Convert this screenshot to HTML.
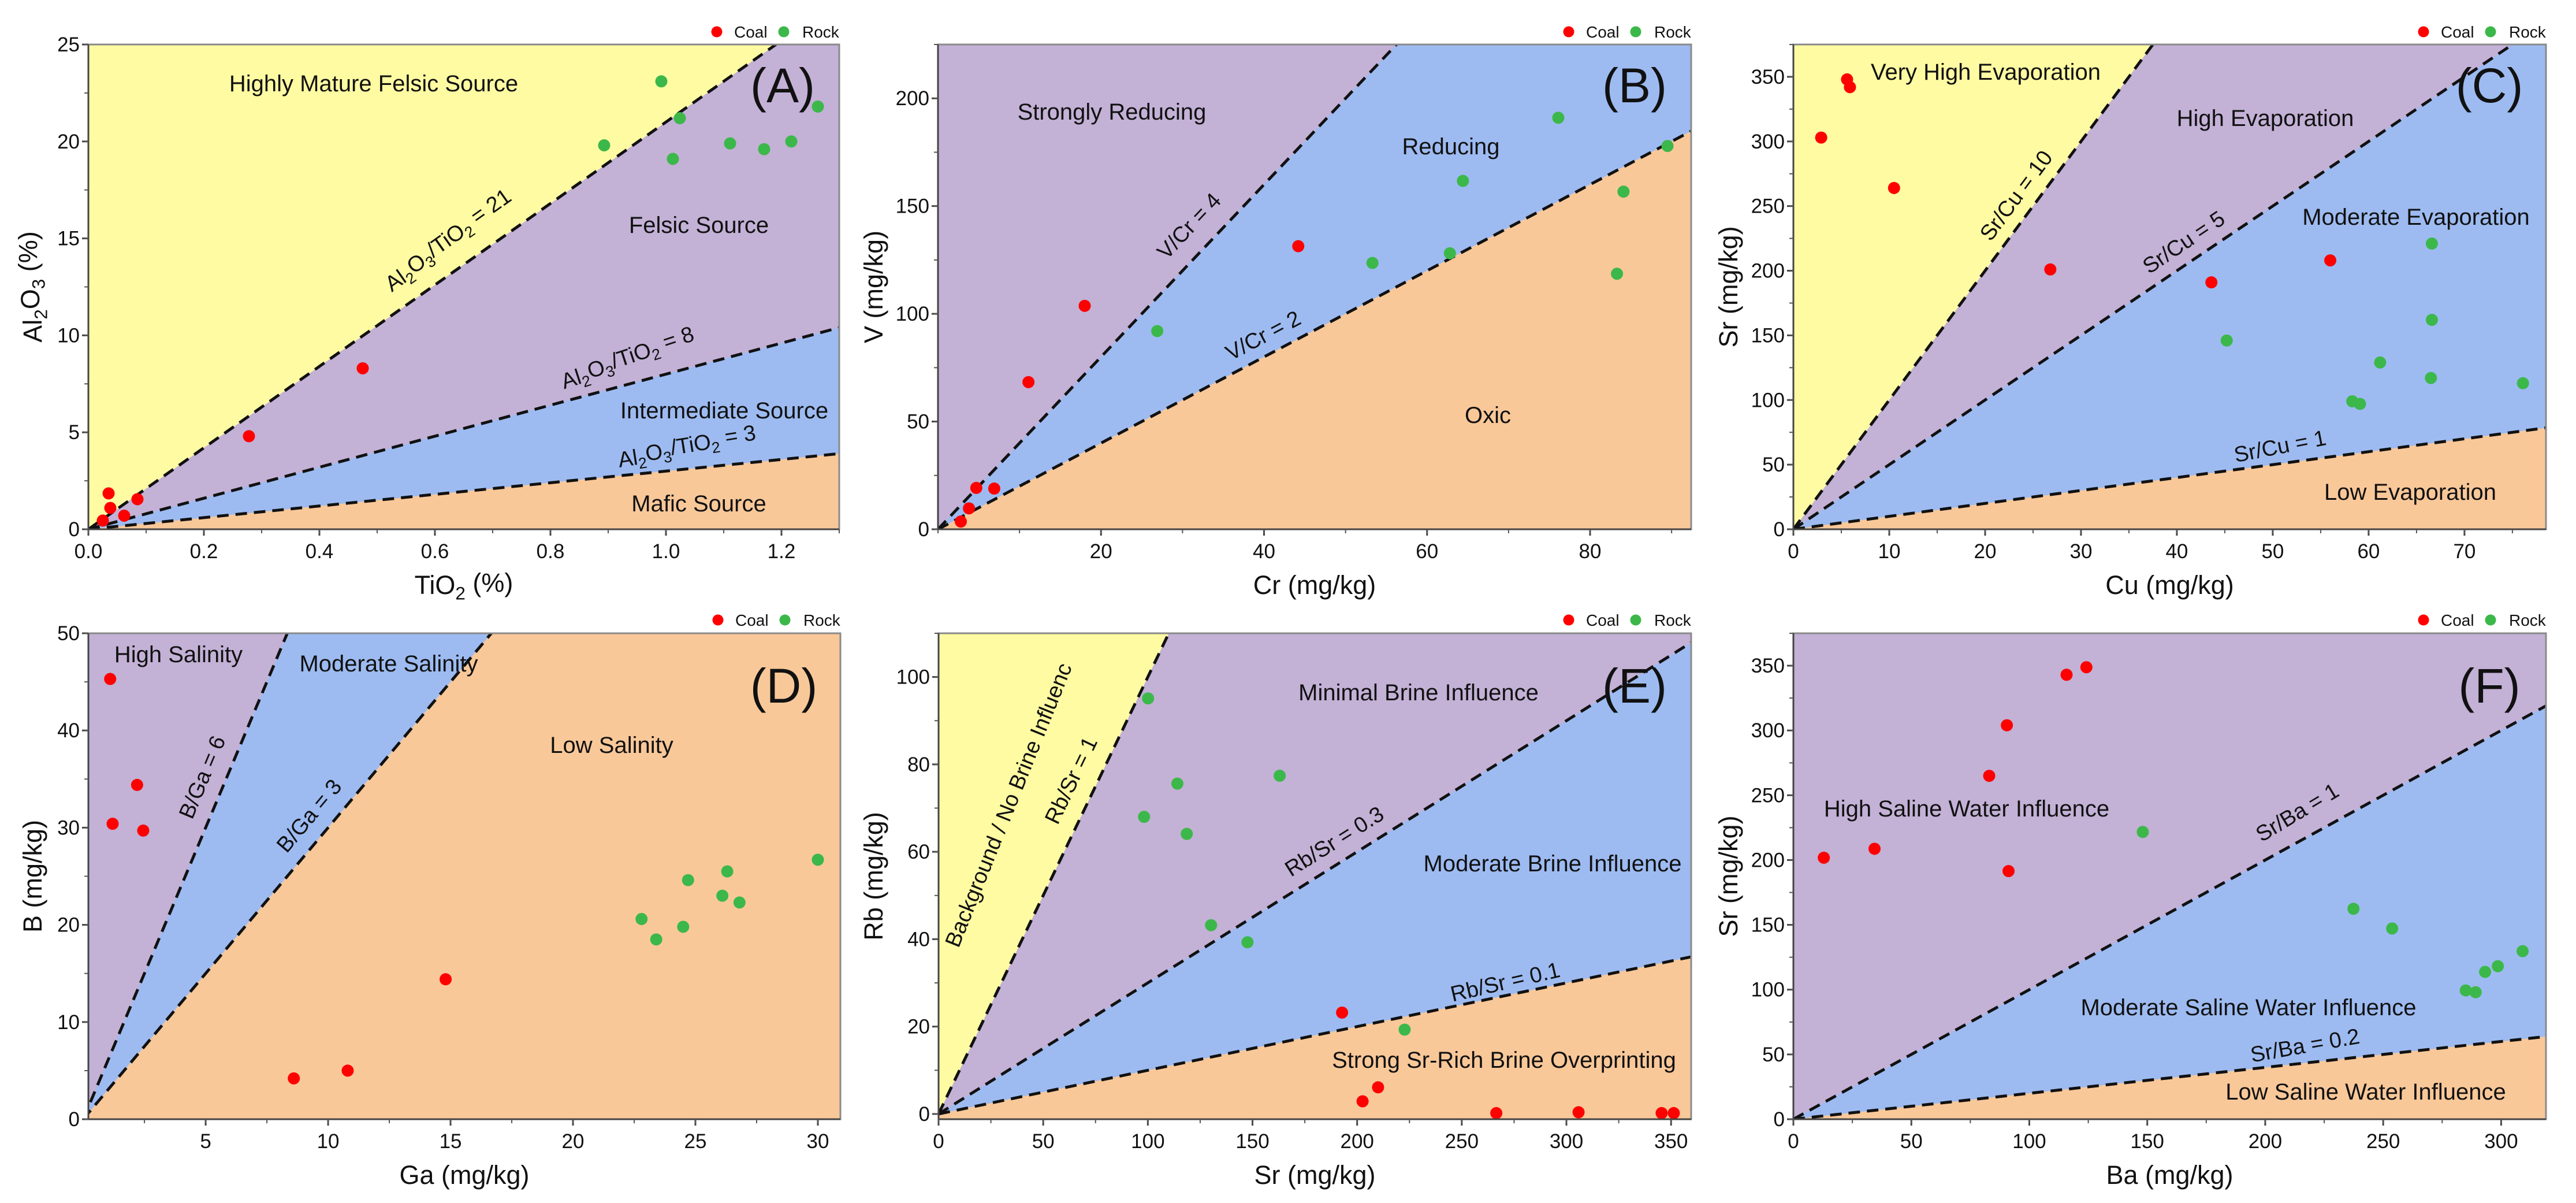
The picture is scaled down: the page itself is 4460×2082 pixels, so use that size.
<!DOCTYPE html>
<html><head><meta charset="utf-8">
<style>
html,body{margin:0;padding:0;background:#fff;}
svg{display:block;font-family:"Liberation Sans",Arial,sans-serif;}
</style></head>
<body>
<svg id="fig" xmlns="http://www.w3.org/2000/svg" width="4460" height="2082" viewBox="0 0 4460 2082">
<rect x="0" y="0" width="4460" height="2082" fill="#ffffff"/>
</svg>
<script>
// ---------- Panel A data ----------
const coalA_x = [0.025, 0.035, 0.038, 0.062, 0.085, 0.278, 0.475];
const coalA_y = [0.45, 1.85, 1.1, 0.7, 1.55, 4.8, 8.3];
const rockA_x = [0.893, 0.992, 1.012, 1.024, 1.111, 1.170, 1.217, 1.263];
const rockA_y = [19.8, 23.1, 19.1, 21.2, 19.9, 19.6, 20.0, 21.8];
const ratiosA = [3, 8, 21];
const xTicksA = [0, 0.2, 0.4, 0.6, 0.8, 1.0, 1.2];
const xTickLabelsA = ["0.0", "0.2", "0.4", "0.6", "0.8", "1.0", "1.2"];
const yTicksA = [0, 5, 10, 15, 20, 25];
// ---------- Panel B data ----------
const coalB_x = [2.8, 3.8, 4.7, 6.9, 11.1, 18.0, 44.2];
const coalB_y = [3.6, 9.7, 19.2, 18.9, 68.3, 103.7, 131.4];
const rockB_x = [26.9, 53.3, 62.8, 64.4, 76.1, 83.3, 84.1, 89.5];
const rockB_y = [92, 123.6, 128.1, 161.7, 191, 118.6, 156.7, 177.9];
const ratiosB = [2, 4];
const xTicksB = [20, 40, 60, 80];
const yTicksB = [0, 50, 100, 150, 200];
// ---------- Panel C data ----------
const coalC_x = [2.9, 5.6, 5.9, 10.5, 26.8, 43.6, 56.0];
const coalC_y = [303, 348, 342, 264, 201, 191, 208];
const rockC_x = [45.2, 58.3, 59.1, 61.2, 66.5, 66.6, 66.6, 76.1];
const rockC_y = [146, 99, 97, 129, 117, 162, 221, 113];
const ratiosC = [1, 5, 10];
const xTicksC = [0, 10, 20, 30, 40, 50, 60, 70];
const yTicksC = [0, 50, 100, 150, 200, 250, 300, 350];
// ---------- Panel D data ----------
const coalD_x = [1.1, 1.2, 2.2, 2.45, 8.6, 10.8, 14.8];
const coalD_y = [45.3, 30.4, 34.4, 29.7, 4.2, 5.0, 14.4];
const rockD_x = [22.8, 23.4, 24.5, 24.7, 26.1, 26.3, 26.8, 30.0];
const rockD_y = [20.6, 18.5, 19.8, 24.6, 23.0, 25.5, 22.3, 26.7];
const ratiosD = [3, 6];
const xTicksD = [5, 10, 15, 20, 25, 30];
const yTicksD = [0, 10, 20, 30, 40, 50];
// ---------- Panel E data ----------
const coalE_x = [192.8, 202.6, 210, 266.5, 305.8, 345.5, 351.3];
const coalE_y = [23.2, 2.9, 6.1, 0.2, 0.4, 0.2, 0.2];
const rockE_x = [100.1, 98.2, 114.1, 118.6, 130.2, 147.6, 163, 222.7];
const rockE_y = [95.1, 68.0, 75.6, 64.1, 43.2, 39.3, 77.4, 19.3];
const ratiosE = [0.1, 0.3, 1];
const xTicksE = [0, 50, 100, 150, 200, 250, 300, 350];
const yTicksE = [0, 20, 40, 60, 80, 100];
// ---------- Panel F data ----------
const coalF_x = [12.9, 34.4, 83, 90.5, 91.2, 115.8, 124.2];
const coalF_y = [201.8, 208.7, 265, 304, 191.5, 343, 348.8];
const rockF_x = [148.1, 237.4, 253.8, 285, 289.2, 293.2, 298.6, 309.1];
const rockF_y = [221.7, 162.4, 147.2, 99.4, 98, 113.7, 118.1, 129.7];
const ratiosF = [0.2, 1];
const xTicksF = [0, 50, 100, 150, 200, 250, 300];
const yTicksF = [0, 50, 100, 150, 200, 250, 300, 350];

const NS = "http://www.w3.org/2000/svg";
const svg = document.getElementById("fig");
const COLORS = {yellow:"#fffba2", purple:"#c3b1d6", blue:"#9dbbf1", orange:"#f9c899"};
function mk(tag, attrs, parent){
  const e = document.createElementNS(NS, tag);
  for (const k in attrs) e.setAttribute(k, attrs[k]);
  (parent||svg).appendChild(e);
  return e;
}
function richText(el, parts){
  // parts: array of [text, isSub]
  let prevSub=false;
  parts.forEach(p=>{
    const t = document.createElementNS(NS,"tspan");
    t.textContent = p[0];
    if (p[1]) { t.setAttribute("font-size","0.7em"); t.setAttribute("dy", prevSub? "0":"0.3em"); }
    else if (prevSub) { t.setAttribute("dy","-0.3em"); }
    prevSub = !!p[1];
    el.appendChild(t);
  });
}

function panel(cfg){
  const [px0,px1]=cfg.px, [py0,py1]=cfg.py, [x0,x1]=cfg.x, [y0,y1]=cfg.y;
  const sx = v => px0 + (v-x0)/(x1-x0)*(px1-px0);
  const sy = v => py1 - (v-y0)/(y1-y0)*(py1-py0);
  const g = mk("g",{});
  
  
  const clipId = "clip"+cfg.id;
  const defs = mk("defs",{},g);
  const cp = mk("clipPath",{id:clipId},defs);
  mk("rect",{x:px0,y:py0,width:px1-px0,height:py1-py0},cp);
  const plot = mk("g",{"clip-path":"url(#"+clipId+")"},g);
  
  
  // background (lowest region)
  const bg = mk("rect",{x:px0,y:py0,width:px1-px0,height:py1-py0,fill:cfg.fills[0]},plot);
  
  
  const big = y1*1000;
  cfg.ratios.forEach((k,i)=>{
    const pts = [[x0,k*x0],[x1,k*x1],[x1,big],[x0,big]].map(p=>sx(p[0])+","+sy(p[1])).join(" ");
    const poly = mk("polygon",{points:pts,fill:cfg.fills[i+1]},plot);
    
    
  });
  cfg.ratios.forEach((k,i)=>{
    let xe = Math.min(x1, y1/k);
    const ln = mk("line",{x1:sx(0),y1:sy(0),x2:sx(xe),y2:sy(k*xe),stroke:"#111",
      "stroke-width":5,"stroke-dasharray":"20 12"},plot);
    
    
  });
  // points
  const series = [[cfg.coal_x,cfg.coal_y,"#ff0000","coal"],[cfg.rock_x,cfg.rock_y,"#3cb84a","rock"]];
  series.forEach(s=>{
    s[0].forEach((xv,j)=>{
      const c = mk("circle",{cx:sx(xv),cy:sy(s[1][j]),r:10.5,fill:s[2]},g);
      
      
    });
  });
  // frame
  const fr = mk("rect",{x:px0,y:py0,width:px1-px0,height:py1-py0,fill:"none",stroke:"#8a8a8a","stroke-width":3},g);
  
  
  mk("line",{x1:px0,y1:py0,x2:px0,y2:py1,stroke:"#444","stroke-width":3},g);
  mk("line",{x1:px0,y1:py1,x2:px1,y2:py1,stroke:"#444","stroke-width":3},g);
  // x ticks
  cfg.xTicks.forEach((t,i)=>{
    mk("line",{x1:sx(t),y1:py1,x2:sx(t),y2:py1+11,stroke:"#444","stroke-width":3},g);
    const tx = mk("text",{x:sx(t),y:py1+50,"font-size":35,"text-anchor":"middle",fill:"#111"},g);
    tx.textContent = cfg.xLabels ? cfg.xLabels[i] : String(t);
    
    
  });
  const xs = cfg.xMinor;
  for (let v=Math.ceil(x0/xs)*xs; v<=x1+1e-9; v+=xs){
    mk("line",{x1:sx(v),y1:py1,x2:sx(v),y2:py1+7,stroke:"#555","stroke-width":2},g);
  }
  cfg.yTicks.forEach(t=>{
    mk("line",{x1:px0-11,y1:sy(t),x2:px0,y2:sy(t),stroke:"#444","stroke-width":3},g);
    const ty = mk("text",{x:px0-15,y:sy(t)+12,"font-size":35,"text-anchor":"end",fill:"#111"},g);
    ty.textContent = String(t);
    
    
  });
  const ys = cfg.yMinor;
  for (let v=Math.ceil(y0/ys)*ys; v<=y1+1e-9; v+=ys){
    mk("line",{x1:px0-7,y1:sy(v),x2:px0,y2:sy(v),stroke:"#555","stroke-width":2},g);
  }
  // axis titles
  const xt = mk("text",{x:(px0+px1)/2,y:py1+112,"font-size":45,"text-anchor":"middle",fill:"#111"},g);
  richText(xt, cfg.xTitle);
  
  
  const cy=(py0+py1)/2;
  const yt = mk("text",{x:cfg.yTitleX,y:cy,"font-size":45,"text-anchor":"middle",fill:"#111",
    transform:"rotate(-90 "+cfg.yTitleX+" "+cy+")"},g);
  richText(yt, cfg.yTitle);
  
  
  // line labels
  const slopePx = k => k*((py1-py0)/(y1-y0))/((px1-px0)/(x1-x0));
  cfg.lineLabels.forEach(L=>{
    const ang = L.ang!==undefined ? L.ang : -Math.atan(slopePx(L.k))*180/Math.PI;
    const t = mk("text",{x:L.x,y:L.y,"font-size":L.fs||38,"text-anchor":"middle",fill:"#111",
      transform:"rotate("+ang.toFixed(2)+" "+L.x+" "+L.y+")"},g);
    richText(t, L.parts);
    
    
  });
  // region labels
  cfg.regionLabels.forEach(R=>{
    const t = mk("text",{x:R[1],y:R[2]+14,"font-size":40,"text-anchor":"middle",fill:"#111"},g);
    t.textContent = R[0];
    
    
  });
  // panel letter
  const pl = mk("text",{x:px1-98,y:cfg.letterY,"font-size":84,"text-anchor":"middle",fill:"#111"},g);
  pl.textContent = "("+cfg.id+")";
  
  
  // legend
  const lg = mk("g",{},g);
  
  
  const ly = cfg.legendY;
  const c1 = mk("circle",{cx:px1-212,cy:ly,r:9.5,fill:"#ff0000"},lg);
  
  
  const t1 = mk("text",{x:px1-182,y:ly+10,"font-size":28,fill:"#111"},lg);
  t1.textContent="Coal";
  
  
  const c2 = mk("circle",{cx:px1-96,cy:ly,r:9.5,fill:"#3cb84a"},lg);
  
  
  const t2 = mk("text",{x:px1-64,y:ly+10,"font-size":28,fill:"#111"},lg);
  t2.textContent="Rock";
  
  
}

const Y="yellow",P="purple",B="blue",O="orange";
const AlTi = n => [["Al"],["2",1],["O"],["3",1],["/TiO"],["2",1],[" = "+n]];

panel({id:"A",px:[153,1453],py:[77,916],x:[0,1.3],y:[0,25],
  coal_x:coalA_x,coal_y:coalA_y,rock_x:rockA_x,rock_y:rockA_y,ratios:ratiosA,
  fills:[COLORS.orange,COLORS.blue,COLORS.purple,COLORS.yellow],
  xTicks:xTicksA,xLabels:xTickLabelsA,xMinor:0.1,yTicks:yTicksA,yMinor:2.5,
  xTitle:[["TiO"],["2",1],[" (%)"]],yTitle:[["Al"],["2",1],["O"],["3",1],[" (%)"]],yTitleX:72,
  lineLabels:[{k:21,x:786,y:430,parts:AlTi(21)},{k:8,x:1092,y:636,ang:-18,parts:AlTi(8)},{k:3,x:1192,y:790,ang:-9,parts:AlTi(3)}],
  regionLabels:[["Highly Mature Felsic Source",647,144],["Felsic Source",1210,389],["Intermediate Source",1254,710],["Mafic Source",1210,871]],
  letterY:177,legendY:55});

panel({id:"B",px:[1624,2928],py:[77,916],x:[0,92.4],y:[0,225],
  coal_x:coalB_x,coal_y:coalB_y,rock_x:rockB_x,rock_y:rockB_y,ratios:ratiosB,
  fills:[COLORS.orange,COLORS.blue,COLORS.purple],
  xTicks:xTicksB,xMinor:10,yTicks:yTicksB,yMinor:25,
  xTitle:[["Cr (mg/kg)"]],yTitle:[["V (mg/kg)"]],yTitleX:1528,
  lineLabels:[{k:4,x:2068,y:400,parts:[["V/Cr = 4"]]},{k:2,x:2193,y:592,parts:[["V/Cr = 2"]]}],
  regionLabels:[["Strongly Reducing",1925,193],["Reducing",2512,253],["Oxic",2576,718]],
  letterY:177,legendY:55});

panel({id:"C",px:[3105,4408],py:[77,916],x:[0,78.5],y:[0,375],
  coal_x:coalC_x,coal_y:coalC_y,rock_x:rockC_x,rock_y:rockC_y,ratios:ratiosC,
  fills:[COLORS.orange,COLORS.blue,COLORS.purple,COLORS.yellow],
  xTicks:xTicksC,xMinor:5,yTicks:yTicksC,yMinor:25,
  xTitle:[["Cu (mg/kg)"]],yTitle:[["Sr (mg/kg)"]],yTitleX:3008,
  lineLabels:[{k:10,x:3501,y:346,parts:[["Sr/Cu = 10"]]},{k:5,x:3788,y:430,parts:[["Sr/Cu = 5"]]},{k:1,x:3950,y:785,ang:-11,parts:[["Sr/Cu = 1"]]}],
  regionLabels:[["Very High Evaporation",3438,124],["High Evaporation",3922,204],["Moderate Evaporation",4183,375],["Low Evaporation",4173,851]],
  letterY:177,legendY:55});

panel({id:"D",px:[153,1455],py:[1096,1937],x:[0.21,30.92],y:[0,50],
  coal_x:coalD_x,coal_y:coalD_y,rock_x:rockD_x,rock_y:rockD_y,ratios:ratiosD,
  fills:[COLORS.orange,COLORS.blue,COLORS.purple],
  xTicks:xTicksD,xMinor:2.5,yTicks:yTicksD,yMinor:5,
  xTitle:[["Ga (mg/kg)"]],yTitle:[["B (mg/kg)"]],yTitleX:72,
  lineLabels:[{k:6,x:362,y:1350,parts:[["B/Ga = 6"]]},{k:3,x:545,y:1420,parts:[["B/Ga = 3"]]}],
  regionLabels:[["High Salinity",309,1132],["Moderate Salinity",673,1148],["Low Salinity",1059,1289]],
  letterY:1216,legendY:1073});

panel({id:"E",px:[1625,2928],py:[1096,1937],x:[0,359.6],y:[-1.2,110],
  coal_x:coalE_x,coal_y:coalE_y,rock_x:rockE_x,rock_y:rockE_y,ratios:ratiosE,
  fills:[COLORS.orange,COLORS.blue,COLORS.purple,COLORS.yellow],
  xTicks:xTicksE,xMinor:25,yTicks:yTicksE,yMinor:10,
  xTitle:[["Sr  (mg/kg)"]],yTitle:[["Rb  (mg/kg)"]],yTitleX:1528,
  lineLabels:[{k:1,x:1758,y:1398,ang:-68,parts:[["Background / No Brine Influenc"]]},
    {k:1,x:1866,y:1356,parts:[["Rb/Sr = 1"]]},{k:0.3,x:2317,y:1467,parts:[["Rb/Sr = 0.3"]]},{k:0.1,x:2609,y:1712,ang:-13,parts:[["Rb/Sr = 0.1"]]}],
  regionLabels:[["Minimal Brine Influence",2456,1198],["Moderate Brine Influence",2688,1494],["Strong Sr-Rich Brine Overprinting",2604,1834]],
  letterY:1216,legendY:1073});

panel({id:"F",px:[3105,4408],py:[1096,1937],x:[0,319],y:[0,375],
  coal_x:coalF_x,coal_y:coalF_y,rock_x:rockF_x,rock_y:rockF_y,ratios:ratiosF,
  fills:[COLORS.orange,COLORS.blue,COLORS.purple],
  xTicks:xTicksF,xMinor:25,yTicks:yTicksF,yMinor:25,
  xTitle:[["Ba (mg/kg)"]],yTitle:[["Sr (mg/kg)"]],yTitleX:3008,
  lineLabels:[{k:1,x:3984,y:1417,ang:-31,parts:[["Sr/Ba = 1"]]},{k:0.2,x:3993,y:1822,ang:-10,parts:[["Sr/Ba = 0.2"]]}],
  regionLabels:[["High Saline Water Influence",3405,1399],["Moderate Saline Water Influence",3893,1743],["Low Saline Water Influence",4096,1889]],
  letterY:1216,legendY:1073});
</script>
</body></html>
